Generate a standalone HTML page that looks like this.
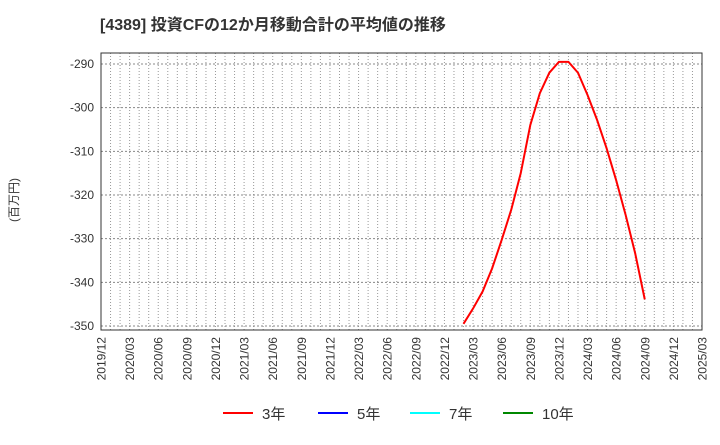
<!DOCTYPE html>
<html><head><meta charset="utf-8"><style>
body{margin:0;background:#fff;font-family:"Liberation Sans","Noto Sans CJK JP",sans-serif;}
</style></head><body>
<svg width="720" height="440" xmlns="http://www.w3.org/2000/svg" font-family="Liberation Sans, Noto Sans CJK JP, sans-serif">
<text x="100" y="30" font-size="16" font-weight="bold" fill="#333">[4389]  投資CFの12か月移動合計の平均値の推移</text>
<text transform="translate(18,200) rotate(-90)" font-size="12" fill="#333" text-anchor="middle">(百万円)</text>
<g id="grid"></g>
<g id="yt"></g>
<g id="xt"></g>
<rect x="101" y="53" width="601" height="277" fill="none" stroke="#333" stroke-width="1"/>
<polyline id="line3" fill="none" stroke="#f00" stroke-width="2"/>
<g>
<g><line x1="223" y1="413" x2="253" y2="413" stroke="#f00" stroke-width="2"/><text x="262" y="419" font-size="15" fill="#333">3年</text></g>
<g><line x1="318" y1="413" x2="348" y2="413" stroke="#00f" stroke-width="2"/><text x="357" y="419" font-size="15" fill="#333">5年</text></g>
<g><line x1="410" y1="413" x2="440" y2="413" stroke="#0ff" stroke-width="2"/><text x="449" y="419" font-size="15" fill="#333">7年</text></g>
<g><line x1="503" y1="413" x2="533" y2="413" stroke="#080" stroke-width="2"/><text x="542" y="419" font-size="15" fill="#333">10年</text></g>
</g>
</svg>
<script>
const xLabels=["2019/12","2020/03","2020/06","2020/09","2020/12","2021/03","2021/06","2021/09","2021/12","2022/03","2022/06","2022/09","2022/12","2023/03","2023/06","2023/09","2023/12","2024/03","2024/06","2024/09","2024/12","2025/03"];
const yTicks=[-290,-300,-310,-320,-330,-340,-350];
const startMonth=38; // 2023/02 index from 2019/12
const values3=[-349.5,-346.0,-342.1,-336.8,-330.3,-323.4,-315.0,-304.0,-296.7,-292.0,-289.5,-289.5,-292.0,-297.1,-302.8,-309.3,-316.6,-324.6,-333.4,-343.9];
const NS="http://www.w3.org/2000/svg";
const X0=101,X1=702,Y0=53,Y1=330,NM=63;
function xs(m){return X0+m*(X1-X0)/NM;}
function ys(v){return 64+(-290-v)*4.367;}
function mk(t,a,p){const e=document.createElementNS(NS,t);for(const k in a)e.setAttribute(k,a[k]);p.appendChild(e);return e;}
const grid=document.getElementById('grid'),yt=document.getElementById('yt'),xt=document.getElementById('xt');
for(let m=1;m<NM;m++){const l=mk('line',{x1:xs(m),x2:xs(m),y1:Y0,y2:Y1,stroke:'#999','stroke-dasharray':'1,2','stroke-width':1},grid);

}
yTicks.forEach(v=>{const l=mk('line',{x1:X0,x2:X1,y1:ys(v),y2:ys(v),stroke:'#888','stroke-dasharray':'2,2','stroke-width':1},grid);


const t=mk('text',{x:94,y:ys(v)+4,'font-size':12,fill:'#333','text-anchor':'end'},yt);t.textContent=v;

});
xLabels.forEach((s,i)=>{const x=xs(i*3);const t=mk('text',{transform:`translate(${x+4.5},337) rotate(-90)`,'font-size':12,fill:'#333','text-anchor':'end'},xt);t.textContent=s;

});
document.getElementById('line3').setAttribute('points',values3.map((v,i)=>xs(startMonth+i)+','+ys(v)).join(' '));
</script>
</body></html>
